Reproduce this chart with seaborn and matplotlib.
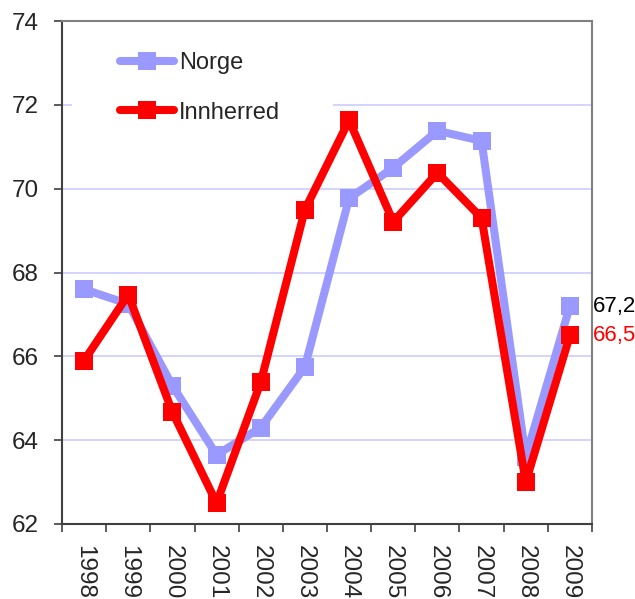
import matplotlib
matplotlib.use("Agg")
import matplotlib.pyplot as plt
import seaborn as sns
import pandas as pd
from matplotlib.lines import Line2D
from matplotlib.patches import Rectangle
from matplotlib.ticker import FixedLocator
from matplotlib.transforms import offset_copy

years = ["1998", "1999", "2000", "2001", "2002", "2003",
         "2004", "2005", "2006", "2007", "2008", "2009"]
norge = [67.6, 67.25, 65.3, 63.65, 64.3, 65.75, 69.77, 70.5, 71.38, 71.14, 63.6, 67.2]
innherred = [65.9, 67.47, 64.67, 62.5, 65.38, 69.5, 71.63, 69.21, 70.38, 69.3, 63.0, 66.5]
series_names = ["Norge", "Innherred"]
colors = {"Norge": "#9999ff", "Innherred": "#ff0000"}
end_labels = ["67,2", "66,5"]

df = pd.DataFrame({
    "pos": list(range(len(years))) * 2,
    "value": norge + innherred,
    "series": ["Norge"] * len(years) + ["Innherred"] * len(years),
})

sns.set_style("white")
plt.rcParams["font.family"] = ["Liberation Sans", "DejaVu Sans"]

W, H = 635, 599
fig = plt.figure(figsize=(W / 100, H / 100), dpi=100)
ax = fig.add_axes([62 / W, 1 - 524 / H, 530 / W, 503 / H])

for yv in [64, 66, 68, 70, 72]:
    ax.axhline(yv, color="#ccccff", lw=1.2, zorder=0)

# white legend area covering gridline (as in reference)
ax.add_patch(Rectangle(((72 - 62) / 530, 1 - (135 - 21) / 503), (333 - 72) / 530, (135 - 30) / 503,
                       transform=ax.transAxes, facecolor="white", edgecolor="none", zorder=1))

sns.lineplot(data=df, x="pos", y="value", hue="series", hue_order=series_names,
             palette=colors, marker="s", markersize=13, linewidth=5.8,
             markeredgewidth=0, legend=False, ax=ax, zorder=3)

ax.set_xlim(-0.5, len(years) - 0.5)
ax.set_ylim(62, 74)
ax.set_xlabel("")
ax.set_ylabel("")

ax.set_xticks(range(len(years)))
ax.set_xticklabels(years, rotation=270, fontsize=17.5)
ax.xaxis.set_minor_locator(FixedLocator([i - 0.5 for i in range(len(years) + 1)]))
ax.tick_params(axis="x", which="major", length=0, pad=15)
ax.tick_params(axis="x", which="minor", length=6, width=1.2, color="#404040", direction="out", bottom=True)
ax.set_yticks([62, 64, 66, 68, 70, 72, 74])
ax.tick_params(axis="y", length=6, width=1.2, color="#404040", direction="out", pad=11, labelsize=17.5, left=True)

for s in ["left", "bottom"]:
    ax.spines[s].set_color("#404040")
    ax.spines[s].set_linewidth(1.5)
for s in ["top", "right"]:
    ax.spines[s].set_color("#808080")
    ax.spines[s].set_linewidth(1.5)

# end value labels
tr = offset_copy(ax.transData, fig=fig, x=1, y=0, units="dots")
ax.text(len(years) - 0.5, norge[-1], end_labels[0], color="black", fontsize=16,
        va="center", ha="left", clip_on=False, transform=tr)
ax.text(len(years) - 0.5, innherred[-1], end_labels[1], color="red", fontsize=16,
        va="center", ha="left", clip_on=False, transform=tr)

handles = [Line2D([], [], color=colors[n], lw=5.8, marker="s", markersize=13, markeredgewidth=0)
           for n in series_names]
leg = ax.legend(handles, series_names, loc="upper left",
                bbox_to_anchor=((120 - 62) / 530, 1 - (52 - 21) / 503),
                frameon=False, fontsize=17, handlelength=2.3, handletextpad=0.2,
                labelspacing=1.17, borderpad=0, borderaxespad=0)
leg.set_zorder(5)

fig.savefig("out.png", dpi=100)
